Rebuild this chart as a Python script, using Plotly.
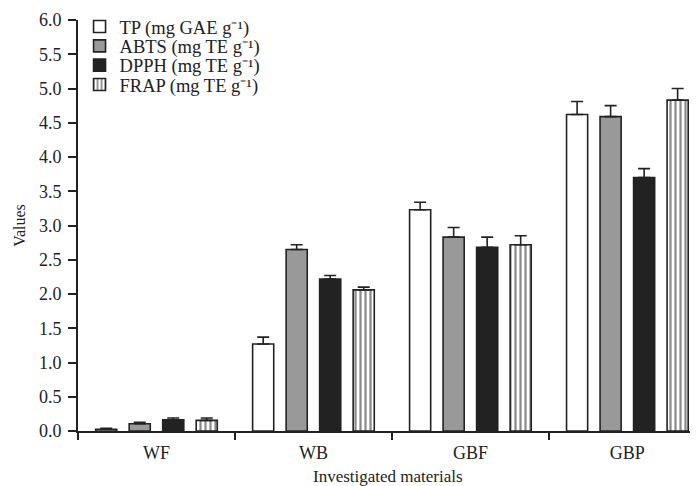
import plotly.graph_objects as go

categories = ["WF", "WB", "GBF", "GBP"]
series_names = [
    "TP (mg GAE g\u207b\u00b9)",
    "ABTS (mg TE g\u207b\u00b9)",
    "DPPH (mg TE g\u207b\u00b9)",
    "FRAP (mg TE g\u207b\u00b9)",
]
tp_values = [0.025, 1.27, 3.23, 4.62]
tp_errors = [0.015, 0.10, 0.11, 0.19]
abts_values = [0.106, 2.65, 2.83, 4.59]
abts_errors = [0.02, 0.07, 0.14, 0.16]
dpph_values = [0.164, 2.22, 2.68, 3.70]
dpph_errors = [0.026, 0.05, 0.15, 0.13]
frap_values = [0.155, 2.06, 2.72, 4.83]
frap_errors = [0.035, 0.04, 0.13, 0.17]
x_title = "Investigated materials"
y_title = "Values"

values = [tp_values, abts_values, dpph_values, frap_values]
errors = [tp_errors, abts_errors, dpph_errors, frap_errors]
fills = ["#ffffff", "#999999", "#222222", "#ffffff"]
line_c = "#222222"
font_family = "Liberation Serif, Times New Roman, serif"
legend_ids = ["legend", "legend2", "legend3", "legend4"]
legend_rows_y = [0.983, 0.936, 0.889, 0.842]

fig = go.Figure()
for i in range(4):
    marker = dict(color=fills[i], line=dict(color=line_c, width=1.6))
    if i == 3:
        marker["pattern"] = dict(shape="|", fgcolor="#8a8a8a", bgcolor="#ffffff",
                                 size=5, solidity=0.45, fillmode="replace")
    fig.add_trace(go.Bar(
        x=categories, y=values[i], name=series_names[i], marker=marker,
        legend=legend_ids[i],
        error_y=dict(type="data", symmetric=False, array=errors[i],
                     arrayminus=[0] * len(errors[i]), color=line_c,
                     thickness=1.6, width=6),
    ))

legend_style = dict(x=0.0025, xanchor="left", yanchor="middle",
                    bgcolor="rgba(0,0,0,0)", borderwidth=0,
                    font=dict(size=18.5, family=font_family, color="#222222"),
                    itemwidth=30)

# page body adds an 8px offset, so the figure is 8px smaller than the window
fig.update_layout(
    width=690, height=478,
    margin=dict(l=70, r=0, t=9, b=55),
    paper_bgcolor="white", plot_bgcolor="white",
    barmode="group", bargap=0.146, bargroupgap=0.37,
    font=dict(family=font_family, size=17, color="#222222"),
    showlegend=True,
    legend=dict(y=legend_rows_y[0], **legend_style),
    legend2=dict(y=legend_rows_y[1], **legend_style),
    legend3=dict(y=legend_rows_y[2], **legend_style),
    legend4=dict(y=legend_rows_y[3], **legend_style),
    xaxis=dict(
        type="category", range=[-0.5, 3.45], tickson="boundaries",
        ticks="outside", ticklen=7, tickwidth=1.6, tickcolor=line_c,
        showline=True, linecolor=line_c, linewidth=1.6, showgrid=False,
        automargin=False, ticklabelstandoff=5,
        tickfont=dict(size=18, family=font_family),
    ),
    yaxis=dict(
        range=[0, 6], dtick=0.5, tickformat=".1f",
        ticks="outside", ticklen=8, tickwidth=1.6, tickcolor=line_c,
        showline=True, linecolor=line_c, linewidth=1.6, showgrid=False,
        zeroline=False, automargin=False, ticklabelstandoff=3,
        ticklabeloverflow="allow",
        title=dict(text=y_title, standoff=9,
                   font=dict(size=16, family=font_family)),
        tickfont=dict(size=18, family=font_family),
    ),
    annotations=[dict(
        text=x_title, xref="paper", yref="paper", x=0.5, y=0,
        xanchor="center", yanchor="middle", yshift=-45, showarrow=False,
        font=dict(size=17, family=font_family, color="#222222"),
    )],
)

fig.write_html("out.html")
